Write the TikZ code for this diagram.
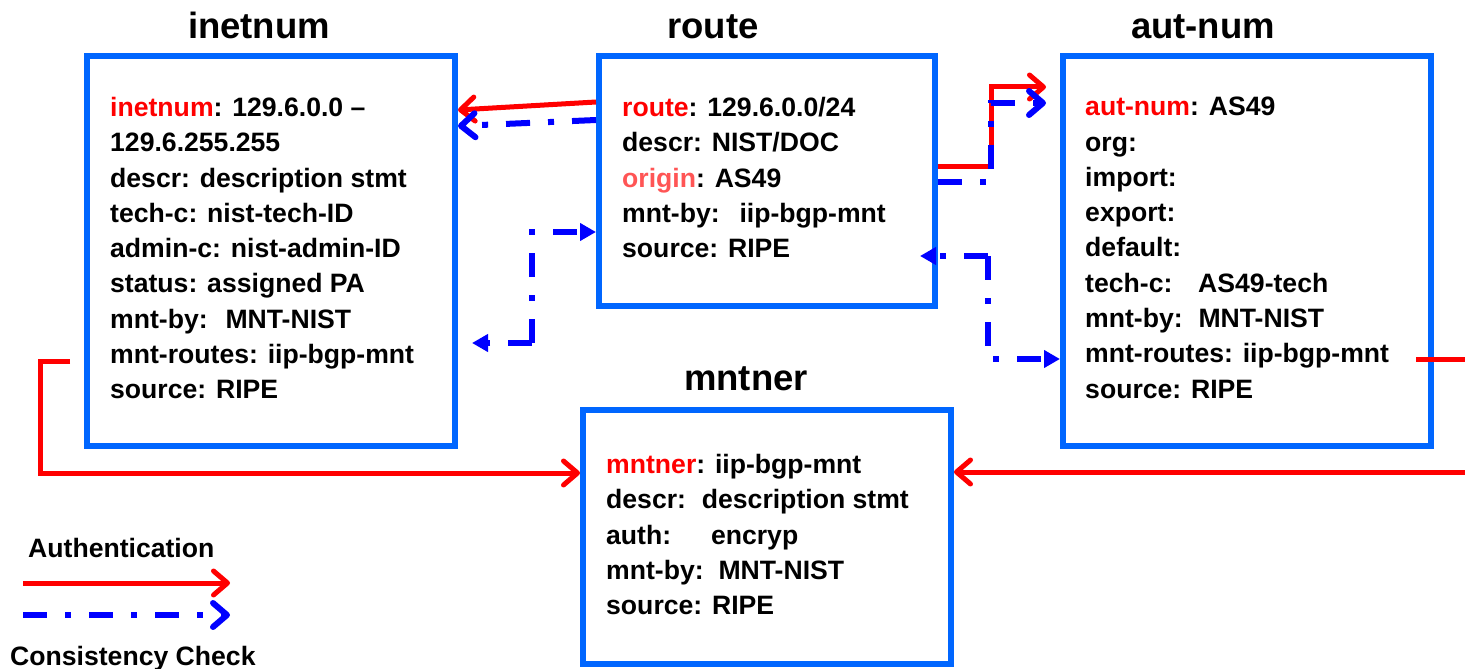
\documentclass[tikz,border=0pt]{standalone}
\usepackage{fontspec}
\setmainfont{Liberation Sans}
\usetikzlibrary{arrows.meta,calc}
\definecolor{boxblue}{RGB}{0,102,255}
\definecolor{lineblue}{RGB}{0,0,255}
\definecolor{keyred}{RGB}{255,0,0}
\definecolor{origred}{RGB}{255,85,85}
\begin{document}
\begin{tikzpicture}[x=1pt,y=-1pt,
  objbox/.style={draw=boxblue, line width=6pt, rectangle, inner sep=0pt},
  bodytext/.style={font=\fontsize{26.6}{35.3}\selectfont\bfseries, align=left, inner sep=0pt, anchor=north west},
  titletext/.style={font=\fontsize{36.5}{40}\selectfont\bfseries, inner sep=0pt, anchor=base},
  legendtext/.style={font=\fontsize{26.6}{30}\selectfont\bfseries, inner sep=0pt, anchor=base west},
  auth/.style={draw=keyred, line width=5pt, -{Straight Barb[length=14pt,width=24pt,round]}},
  consist/.style={draw=lineblue, line width=6pt, dash pattern=on 24pt off 18pt on 6pt off 18pt},
  openv/.style={-{Straight Barb[length=14pt,width=24pt,round]}},
  filltri/.style={-{Triangle[length=16pt,width=17pt]}}
]
\useasboundingbox (0,0) rectangle (1465,669);
\clip (0,0) rectangle (1465,669);

% boxes
\node[objbox, minimum width=368pt, minimum height=390pt] (inet) at (271,251) {};
\node[objbox, minimum width=336pt, minimum height=250pt] (route) at (767,181) {};
\node[objbox, minimum width=368pt, minimum height=390pt] (aut) at (1247,251) {};
\node[objbox, minimum width=368pt, minimum height=254pt] (mnt) at (767,537) {};

% titles
\node[titletext] (tinet) at (259,39) {inetnum};
\node[titletext] (troute) at (713,39) {route};
\node[titletext] (taut) at (1203,39) {aut-num};
\node[titletext] (tmnt) at (746,390) {mntner};

% body texts
\node[bodytext] (xinet) at (110,97) {\textcolor{keyred}{inetnum}: 129.6.0.0 --\\129.6.255.255\\descr: description stmt\\tech-c: nist-tech-ID\\admin-c: nist-admin-ID\\status: assigned PA\\mnt-by:\hspace{8pt} MNT-NIST\\mnt-routes: iip-bgp-mnt\\source: RIPE};
\node[bodytext] (xroute) at (622,97) {\textcolor{keyred}{route}: 129.6.0.0/24\\descr: NIST/DOC\\\textcolor{origred}{origin}: AS49\\mnt-by:\hspace{10pt} iip-bgp-mnt\\source: RIPE};
\node[bodytext] (xaut) at (1085,97) {\textcolor{keyred}{aut-num}: AS49\\org:\\import:\\export:\\default:\\tech-c:\hspace{16pt} AS49-tech\\mnt-by:\hspace{6pt} MNT-NIST\\mnt-routes: iip-bgp-mnt\\source: RIPE};
\node[bodytext] (xmnt) at (606,454) {\textcolor{keyred}{mntner}: iip-bgp-mnt\\descr:\hspace{6pt} description stmt\\auth:\hspace{30pt} encryp\\mnt-by:\hspace{5pt} MNT-NIST\\source: RIPE};

% free-end coordinates
\coordinate (inetout) at (70,361);
\coordinate (inetleft) at (40,361);
\coordinate (autout) at (1416,359);
\coordinate (offright) at (1490,359);
\coordinate (autin1) at (1046,87);
\coordinate (autin2) at (1046,103);
\coordinate (bend) at (991,87);
\coordinate (bendb) at (991,182);
\coordinate (bendc) at (991,103);
\coordinate (cc1) at (532,343);
\coordinate (cc1tip) at (472,343);
\coordinate (cc2) at (988,256);
\coordinate (cc2tip) at (920,256);

% route -> inetnum
\draw[auth] (route.west |- {(0,102)}) -- (inet.east |- {(0,110)});
\draw[consist, openv] (route.west |- {(0,120)}) -- (inet.east |- {(0,126)});

% route -> aut-num
\draw[auth] (route.east |- {(0,166)}) -| (bend) -- (autin1);
\draw[consist, openv] (route.east |- {(0,182)}) -- (bendb) -- (bendc) -- (autin2);

% consistency loops
\draw[consist, filltri] (cc1) |- (route.west |- {(0,232)});
\draw[consist, filltri] (cc1) -- (cc1tip);
\draw[consist, filltri] (cc2) -- (cc2tip);
\draw[consist, filltri] (cc2) |- (aut.west |- {(0,359)});

% authentication to mntner
\draw[auth] (inetout) -- (inetleft) |- (mnt.west |- {(0,473)});
\draw[auth] (autout) -- (offright) |- (mnt.east |- {(0,472)});

% legend
\node[legendtext] (lauth) at (28,557) {Authentication};
\node[legendtext] (lcons) at (10,665) {Consistency Check};
\coordinate (la1) at (23,583);
\coordinate (la2) at (230,583);
\coordinate (lb1) at (23,615);
\coordinate (lb2) at (230,615);
\draw[auth] (la1) -- (la2);
\draw[consist, openv] (lb1) -- (lb2);
\end{tikzpicture}
\end{document}
